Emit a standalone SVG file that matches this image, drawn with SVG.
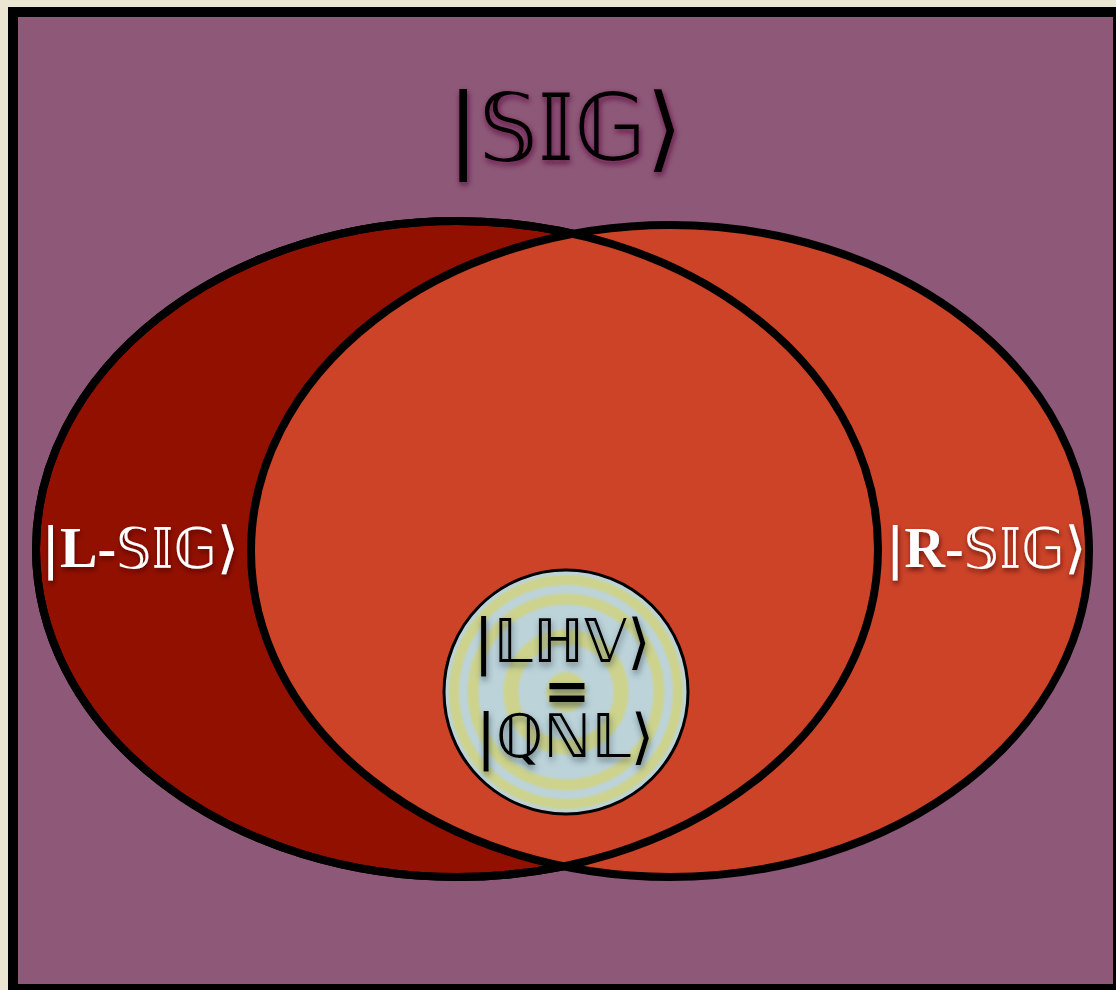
<svg xmlns="http://www.w3.org/2000/svg" width="1116" height="990" viewBox="0 0 1116 990">
<defs>
<style>
.ds{font-family:"DejaVu Sans","Noto Sans",sans-serif}
.sf{font-family:"Liberation Serif","DejaVu Serif",serif;font-weight:bold}
.ell{stroke:#000;stroke-width:8}
.ring{fill:none;stroke:#CDD38C}
</style>
<filter id="shTitle" x="-20%" y="-20%" width="140%" height="140%">
<feDropShadow dx="1" dy="3" stdDeviation="3" flood-color="#5A0A3C" flood-opacity="0.9"/>
</filter>
<filter id="shWhite" x="-20%" y="-20%" width="140%" height="140%">
<feDropShadow dx="1" dy="3" stdDeviation="2.5" flood-color="#3A0000" flood-opacity="0.7"/>
</filter>
<filter id="shBlack" x="-20%" y="-20%" width="140%" height="140%">
<feDropShadow dx="1" dy="4" stdDeviation="3" flood-color="#2A3A40" flood-opacity="0.6"/>
</filter>
<filter id="soft"><feGaussianBlur stdDeviation="1"/></filter>
<clipPath id="cc"><circle cx="566" cy="692" r="122"/></clipPath>
</defs>
<rect x="0" y="0" width="1116" height="990" fill="#EAE6D1"/>
<g id="frame">
<rect x="13" y="12" width="1105" height="977" fill="#8E5978" stroke="#000" stroke-width="10"/>
</g>
<g id="title" filter="url(#shTitle)">
<text class="ds" x="565" y="160" font-size="93" text-anchor="middle" fill="#000">|𝕊𝕀𝔾⟩</text>
</g>
<g id="connectors"></g>
<g id="left-sig">
<ellipse class="ell" cx="457" cy="549" rx="421" ry="328" fill="#921000"/>
</g>
<g id="right-sig">
<ellipse class="ell" cx="670" cy="551" rx="419" ry="326" fill="#CC4328"/>
</g>
<g id="left-outline">
<ellipse cx="457" cy="549" rx="421" ry="328" fill="none" stroke="#000" stroke-width="8"/>
</g>
<g id="left-label" filter="url(#shWhite)">
<text x="140" y="567" font-size="56" text-anchor="middle" fill="#fff"><tspan class="ds">|</tspan><tspan class="sf">L-</tspan><tspan class="ds">𝕊𝕀𝔾⟩</tspan></text>
</g>
<g id="right-label" filter="url(#shWhite)">
<text x="986" y="567" font-size="56" text-anchor="middle" fill="#fff"><tspan class="ds">|</tspan><tspan class="sf">R-</tspan><tspan class="ds">𝕊𝕀𝔾⟩</tspan></text>
</g>
<g id="lhv-qnl">
<circle cx="566" cy="692" r="122" fill="#BCD3DA"/>
<g clip-path="url(#cc)" filter="url(#soft)">
<circle class="ring" cx="566" cy="692" r="112" stroke-width="10"/>
<circle class="ring" cx="566" cy="692" r="93" stroke-width="11"/>
<circle class="ring" cx="566" cy="692" r="55" stroke-width="15"/>
<circle cx="566" cy="692" r="20" fill="#CDD38C"/>
</g>
<circle cx="566" cy="692" r="122" fill="none" stroke="#000" stroke-width="3"/>
<g filter="url(#shBlack)">
<text class="ds" font-size="60" text-anchor="middle" fill="#000"><tspan x="562" y="662">|𝕃ℍ𝕍⟩</tspan><tspan x="567" y="710" font-size="56" font-weight="bold">=</tspan><tspan x="565" y="757">|ℚℕ𝕃⟩</tspan></text>
</g>
</g>
</svg>
